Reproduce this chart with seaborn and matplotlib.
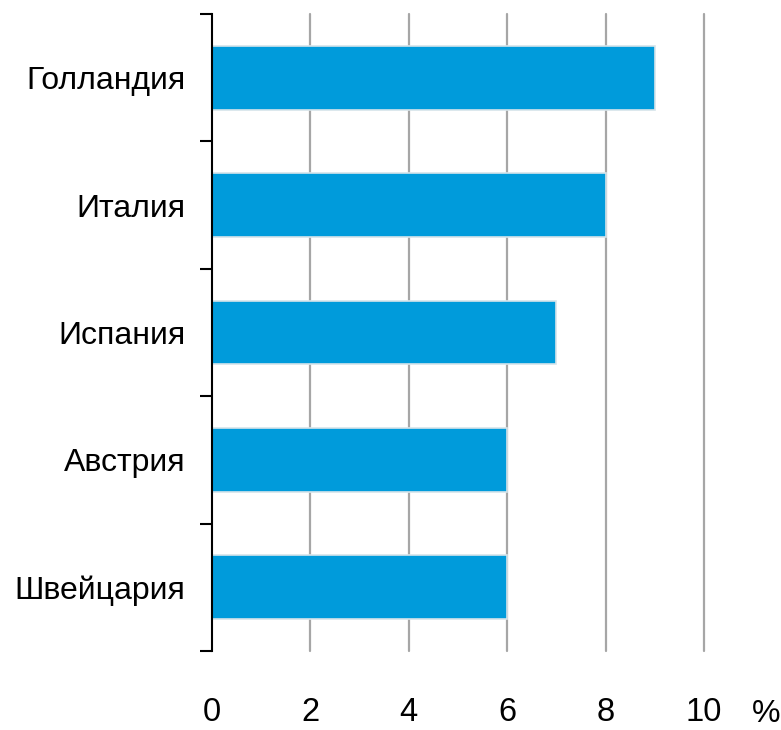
import matplotlib
matplotlib.use("Agg")
import matplotlib.pyplot as plt
import seaborn as sns
import pandas as pd
import numpy as np

countries = ["Голландия", "Италия", "Испания", "Австрия", "Швейцария"]
shares = [9, 8, 7, 6, 6]
x_ticks = [0, 2, 4, 6, 8, 10]

sns.set_theme(style="white")
plt.rcParams["font.family"] = ["Liberation Sans", "DejaVu Sans"]

df = pd.DataFrame({"country": countries, "share": shares})

fig = plt.figure(figsize=(7.81, 7.30), dpi=100)
ax = fig.add_axes([212 / 781, 1 - 651 / 730, (704 - 212) / 781, (651 - 14) / 730])

# vertical grid lines behind the bars
for v in x_ticks[1:]:
    ax.axvline(v, color="#a6a6a6", lw=1.6, zorder=0, clip_on=False)

sns.barplot(data=df, x="share", y="country", orient="h", color="#009bdb",
            saturation=1, width=0.5, edgecolor="#d6e4ea", linewidth=1.2,
            ax=ax, zorder=2)

ax.set_xlim(0, 10)
ax.set_ylim(len(countries) - 0.5, -0.5)
ax.set_xlabel("")
ax.set_ylabel("")

for side in ["top", "right", "bottom"]:
    ax.spines[side].set_visible(False)
ax.spines["left"].set_color("black")
ax.spines["left"].set_linewidth(1.5)

ax.set_xticks(x_ticks)
ax.set_xticklabels([str(t) for t in x_ticks])
ax.tick_params(axis="x", length=0, pad=33, labelsize=23.5, labelcolor="black")

ax.set_yticks(range(len(countries)))
ax.set_yticklabels(countries)
ax.tick_params(axis="y", which="major", length=0, pad=19, labelsize=23, labelcolor="black")
ax.set_yticks(np.arange(-0.5, len(countries), 1), minor=True)
ax.tick_params(axis="y", which="minor", left=True, length=9, width=1.5, color="black", direction="out")

fig.text(766 / 781, 1 - 714 / 730, "%", fontsize=23, ha="center", va="center", color="black")

fig.savefig("out.png", dpi=100)
